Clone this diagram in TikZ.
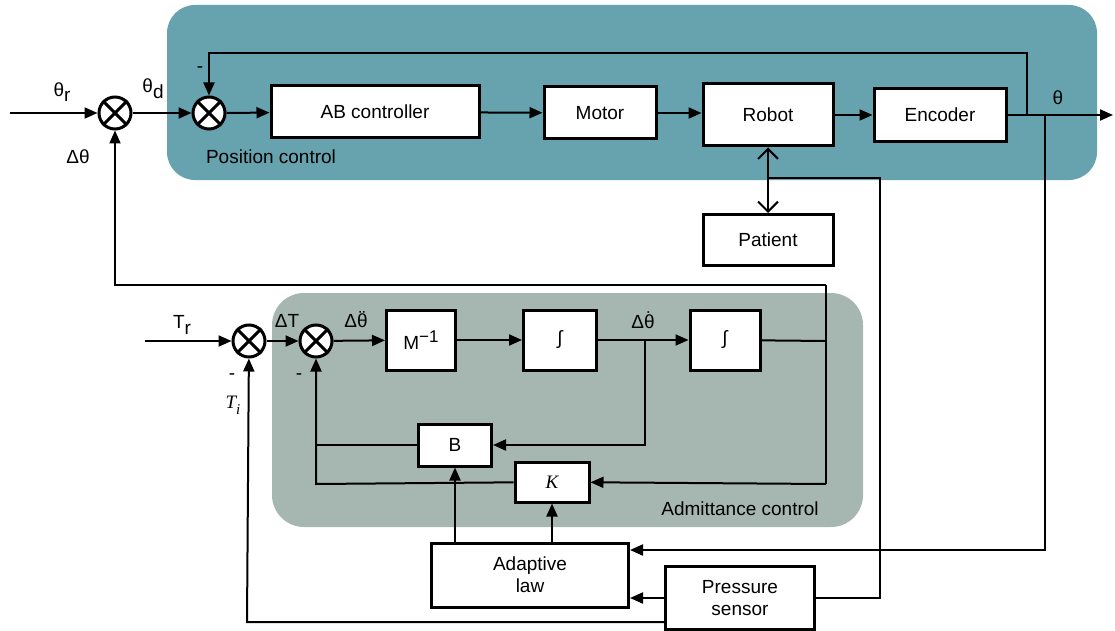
\documentclass[tikz,border=0pt]{standalone}
\usepackage{fontspec}
\setmainfont{Liberation Sans}
\newfontfamily\serifit{Liberation Serif}
\usetikzlibrary{arrows.meta,calc}
\definecolor{posbg}{RGB}{103,163,174}
\definecolor{admbg}{RGB}{166,183,177}
\newcommand\myddth{\ooalign{θ\cr\hidewidth\raisebox{0.16em}{¨}\hidewidth\cr}}
\newcommand\mydth{\ooalign{θ\cr\hidewidth\raisebox{0.16em}{˙}\hidewidth\cr}}
\begin{document}
\begin{tikzpicture}[x=1pt,y=-1pt,
  every node/.style={font=\fontsize{19}{22}\selectfont},
  blk/.style={draw,line width=3pt,fill=white,inner sep=0pt},
  sumj/.style={draw,circle,line width=3pt,minimum size=32pt,inner sep=0pt,fill=white},
  conn/.style={line width=2pt},
  arr/.style={conn,-{Triangle[length=13pt,width=11pt]}},
  dbl/.style={conn,{Straight Barb[length=10pt,width=20pt,line width=2pt]}-{Straight Barb[length=10pt,width=20pt,line width=2pt]}},
  lbl/.style={inner sep=0pt}]
\useasboundingbox (0,0) rectangle (1115,631);
% backgrounds
\fill[posbg,rounded corners=28pt] (167,5) rectangle (1097,180);
\fill[admbg,rounded corners=32pt] (272,293) rectangle (863,527);
\node[lbl] (poslbl) at (271,157) {Position control};
\node[lbl] (admlbl) at (740,509) {Admittance control};
% summing junctions
\node[sumj] (s1) at (115,113) {};
\node[sumj] (s2) at (209,113) {};
\node[sumj] (s3) at (249,341) {};
\node[sumj] (s4) at (316,341) {};
\foreach \s in {s1,s2,s3,s4}{
  \draw[line width=3pt] (\s.45) -- (\s.225);
  \draw[line width=3pt] (\s.135) -- (\s.315);
}
% blocks
\node[blk,minimum width=208pt,minimum height=52pt] (ab) at (375,112) {AB controller};
\node[blk,minimum width=112pt,minimum height=52pt] (motor) at (600,113) {Motor};
\node[blk,minimum width=130pt,minimum height=62pt] (robot) at (768,115) {Robot};
\node[blk,minimum width=132pt,minimum height=53pt] (enc) at (940,115) {Encoder};
\node[blk,minimum width=130pt,minimum height=51pt] (patient) at (768,240) {Patient};
\node[blk,minimum width=69pt,minimum height=60pt] (minv) at (421,340) {M\raisebox{0.4em}{\fontsize{17}{17}\selectfont −1}};
\node[blk,minimum width=73pt,minimum height=60pt] (int1) at (560,340) {∫};
\node[blk,minimum width=70pt,minimum height=60pt] (int2) at (725,340) {∫};
\node[blk,minimum width=73pt,minimum height=42pt] (B) at (455,445) {B};
\node[blk,minimum width=74pt,minimum height=40pt] (K) at (552,482) {\serifit\itshape K};
\node[blk,minimum width=197pt,minimum height=64pt,align=center] (adapt) at (530,575) {Adaptive\\law};
\node[blk,minimum width=149pt,minimum height=63pt,align=center] (sensor) at (740,598) {Pressure\\sensor};
% labels
\node[lbl] (thr) at (62,92) {θ\raisebox{-0.3em}{r}};
\node[lbl] (thd) at (153,89) {θ\raisebox{-0.3em}{d}};
\node[lbl] (m1) at (200,70) {-};
\node[lbl] (th) at (1058,98) {θ};
\node[lbl] (dth) at (78,157) {Δθ};
\node[lbl] (tr) at (182,325) {T\raisebox{-0.3em}{r}};
\node[lbl] (dT) at (287,321) {ΔT};
\node[lbl] (ddth) at (356,321) {Δ\myddth};
\node[lbl] (dth2) at (643,322) {Δ\mydth};
\node[lbl] (m3) at (232,377) {-};
\node[lbl] (m4) at (299,377) {-};
\node[lbl] (ti) at (233,405) {\serifit\itshape T\raisebox{-0.3em}{\fontsize{15}{15}\selectfont i}};
% coordinates
\coordinate (in1) at (10,113);
\coordinate (out) at (1113,115);
\coordinate (fb1) at (1027,115);
\coordinate (fbtop) at (1027,53);
\coordinate (th2) at (1045,115);
\coordinate (c1) at (1045,550);
\coordinate (rp) at (768,178);
\coordinate (c2) at (880,178);
\coordinate (c3) at (247,622);
\coordinate (trin) at (145,341);
\coordinate (b1) at (645,341);
\coordinate (c4) at (826,341);
\coordinate (c5) at (826,285);
\coordinate (c6) at (826,484);
\coordinate (c7) at (115,285);
\coordinate (c8) at (316,484);
% top loop
\draw[arr] (in1) -- (s1);
\draw[arr] (s1) -- (s2);
\draw[arr] (s2) -- (ab);
\draw[arr] (ab) -- (motor);
\draw[arr] (motor.east) -- (motor.east -| robot.west);
\draw[arr] (robot) -- (enc);
\draw[arr] (enc) -- (out);
\draw[arr] (fb1) -- (fbtop) -| (s2);
\draw[arr] (th2) -- (c1) -- (c1 -| adapt.east);
\draw[dbl] (robot) -- (patient);
\draw[conn] (rp) -- (c2) |- (sensor);
\draw[arr] (sensor.west) -- (sensor.west -| adapt.east);
\draw[arr] (sensor.west |- c3) -- (c3) -- (s3);
% admittance loop
\draw[arr] (trin) -- (s3);
\draw[arr] (s3) -- (s4);
\draw[arr] (s4) -- (minv);
\draw[arr] (minv) -- (int1);
\draw[arr] (int1) -- (int2);
\draw[arr] (b1) |- (B);
\draw[conn] (int2) -- (c4);
\draw[conn] (c5) -- (c6);
\draw[arr] (c6) -- (K);
\draw[arr] (c5) -- (c7) -- (s1);
\draw[arr] (K) -- (c8) -- (s4);
\draw[conn] (B.west) -- (B.west -| c8);
\draw[arr] (adapt.north -| B) -- (B);
\draw[arr] (adapt.north -| K) -- (K);
\end{tikzpicture}
\end{document}
